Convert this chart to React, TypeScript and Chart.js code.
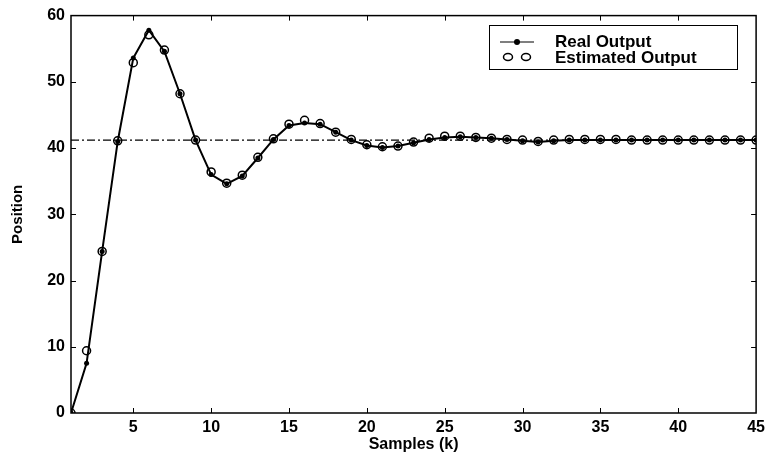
import React, { useEffect, useRef } from "react";
import { Chart, registerables } from "chart.js";

Chart.register(...registerables);

const samples = [1,2,3,4,5,6,7,8,9,10,11,12,13,14,15,16,17,18,19,20,21,22,23,24,25,26,27,28,29,30,31,32,33,34,35,36,37,38,39,40,41,42,43,44,45];
const realOutput = [0, 7.5, 24.4, 41.0, 53.6, 57.8, 54.6, 48.2, 41.2, 36.0, 34.6, 35.8, 38.5, 41.3, 43.4, 43.8, 43.6, 42.4, 41.2, 40.4, 40.1, 40.3, 40.8, 41.3, 41.6, 41.7, 41.6, 41.5, 41.3, 41.1, 40.9, 41.1, 41.2, 41.2, 41.2, 41.2, 41.2, 41.2, 41.2, 41.2, 41.2, 41.2, 41.2, 41.2, 41.2];
const estimatedOutput = [0, 9.4, 24.4, 41.1, 52.9, 57.1, 54.8, 48.2, 41.2, 36.4, 34.7, 35.9, 38.6, 41.4, 43.6, 44.2, 43.7, 42.4, 41.3, 40.5, 40.2, 40.3, 40.9, 41.5, 41.8, 41.8, 41.6, 41.5, 41.3, 41.2, 41.0, 41.2, 41.3, 41.3, 41.3, 41.3, 41.2, 41.2, 41.2, 41.2, 41.2, 41.2, 41.2, 41.2, 41.2];
const setpoint = 41.2;
const xTicks = [5, 10, 15, 20, 25, 30, 35, 40, 45];
const yTicks = [0, 10, 20, 30, 40, 50, 60];
const legendLabels = ["Real Output", "Estimated Output"];

const FONT = "'Liberation Sans', Arial, sans-serif";

const framePlugin = {
  id: "frameTicks",
  afterDatasetsDraw(chart: any) {
    const { ctx, chartArea: a, scales } = chart;
    const xs = scales.x, ys = scales.y;
    ctx.save();
    ctx.strokeStyle = "#000";
    ctx.lineWidth = 1.5;
    ctx.strokeRect(a.left, a.top, a.right - a.left, a.bottom - a.top);
    ctx.lineWidth = 1;
    const tl = 5;
    xTicks.forEach((v) => {
      const px = Math.round(xs.getPixelForValue(v)) + 0.5;
      if (px >= a.right - 1) return;
      ctx.beginPath();
      ctx.moveTo(px, a.bottom); ctx.lineTo(px, a.bottom - tl);
      ctx.moveTo(px, a.top); ctx.lineTo(px, a.top + tl);
      ctx.stroke();
    });
    yTicks.forEach((v) => {
      const py = Math.round(ys.getPixelForValue(v)) + 0.5;
      if (py >= a.bottom - 1 || py <= a.top + 1) return;
      ctx.beginPath();
      ctx.moveTo(a.left, py); ctx.lineTo(a.left + tl, py);
      ctx.moveTo(a.right, py); ctx.lineTo(a.right - tl, py);
      ctx.stroke();
    });
    // legend
    const bx = 489, by = 25, bw = 248, bh = 44;
    ctx.fillStyle = "#fff";
    ctx.fillRect(bx, by, bw, bh);
    ctx.lineWidth = 1;
    ctx.strokeRect(bx + 0.5, by + 0.5, bw, bh);
    ctx.strokeStyle = "#000";
    ctx.lineWidth = 1.2;
    ctx.beginPath();
    ctx.moveTo(500, 42); ctx.lineTo(534, 42);
    ctx.stroke();
    ctx.fillStyle = "#000";
    ctx.beginPath();
    ctx.arc(517, 42, 3, 0, Math.PI * 2);
    ctx.fill();
    ctx.lineWidth = 1.5;
    [508, 526].forEach((cx) => {
      ctx.beginPath();
      ctx.ellipse(cx, 57, 4.5, 3.5, 0, 0, Math.PI * 2);
      ctx.stroke();
    });
    ctx.fillStyle = "#000";
    ctx.font = `bold 17px ${FONT}`;
    ctx.textBaseline = "alphabetic";
    ctx.textAlign = "left";
    ctx.fillText(legendLabels[0], 555, 47);
    ctx.fillText(legendLabels[1], 555, 63);
    ctx.restore();
  },
};

export default function App() {
  const ref = useRef<HTMLCanvasElement | null>(null);
  useEffect(() => {
    if (!ref.current) return;
    const chart = new Chart(ref.current, {
      type: "line",
      data: {
        datasets: [
          {
            label: legendLabels[1],
            data: samples.map((k, i) => ({ x: k, y: estimatedOutput[i] })),
            showLine: false,
            pointRadius: 4,
            pointBorderWidth: 1.5,
            pointBorderColor: "#000",
            pointBackgroundColor: "rgba(255,255,255,0)",
            borderColor: "#000",
          },
          {
            label: legendLabels[0],
            data: samples.map((k, i) => ({ x: k, y: realOutput[i] })),
            borderColor: "#000",
            borderWidth: 2,
            pointRadius: 2.5,
            pointBackgroundColor: "#000",
            pointBorderWidth: 0,
            tension: 0,
          },
          {
            label: "Setpoint",
            data: samples.map((k) => ({ x: k, y: setpoint })),
            borderColor: "#000",
            borderWidth: 1.4,
            borderDash: [8, 3, 2, 3],
            pointRadius: 0,
          },
        ],
      },
      options: {
        responsive: false,
        animation: false,
        devicePixelRatio: 1,
        layout: { padding: { left: 0, top: 12, right: 10, bottom: 0 } },
        plugins: { legend: { display: false }, tooltip: { enabled: false } },
        scales: {
          x: {
            type: "linear",
            min: 1,
            max: 45,
            grid: { display: false, drawTicks: false },
            border: { display: false },
            afterBuildTicks: (s: any) => { s.ticks = xTicks.map((v) => ({ value: v })); },
            afterFit: (s: any) => { s.height = 45; },
            ticks: {
              color: "#000",
              padding: 5,
              maxRotation: 0,
              autoSkip: false,
              font: { family: FONT, size: 16, weight: "bold" },
            },
            title: {
              display: true,
              text: "Samples (k)",
              color: "#000",
              padding: { top: 0, bottom: 4 },
              font: { family: FONT, size: 16, weight: "bold" },
            },
          },
          y: {
            type: "linear",
            min: 0,
            max: 60,
            grid: { display: false, drawTicks: false },
            border: { display: false },
            afterBuildTicks: (s: any) => { s.ticks = yTicks.map((v) => ({ value: v })); },
            afterFit: (s: any) => { s.width = 71; },
            ticks: {
              color: "#000",
              padding: 6,
              autoSkip: false,
              font: { family: FONT, size: 16, weight: "bold" },
            },
            title: {
              display: true,
              text: "Position",
              color: "#000",
              padding: { top: 9, bottom: 0 },
              font: { family: FONT, size: 15, weight: "bold" },
            },
          },
        },
      },
      plugins: [framePlugin],
    });
    return () => chart.destroy();
  }, []);
  return (
    <div style={{ position: "absolute", left: 0, top: 0, width: 770, height: 458, background: "#fff" }}>
      <canvas ref={ref} width={770} height={458} />
    </div>
  );
}
